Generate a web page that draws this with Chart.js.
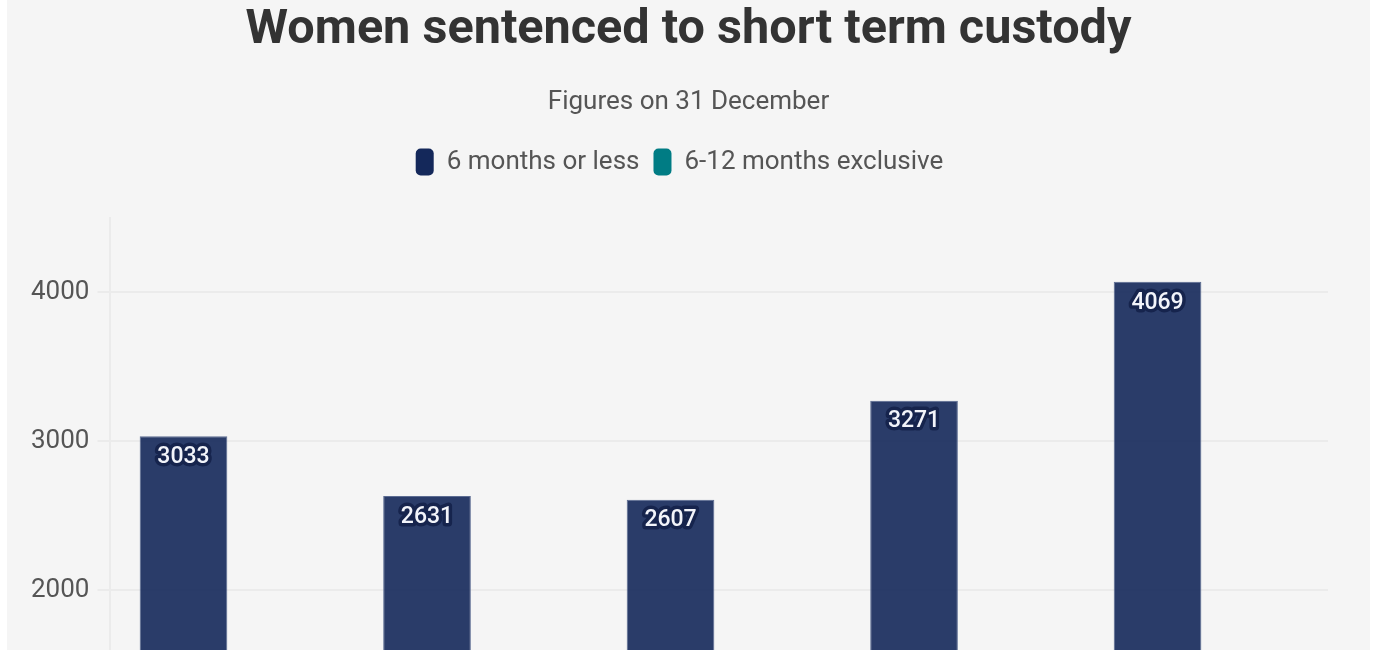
<!DOCTYPE html>
<html>
<head>
<meta charset="utf-8">
<script src="https://cdn.jsdelivr.net/npm/chart.js@4"></script>
<style>
  body { margin: 0; background: #fff; overflow: hidden; }
  #wrap { position: absolute; left: 7px; top: 0; width: 1363px; height: 941px; background: #f5f5f5; }
</style>
</head>
<body>
<div id="wrap"><canvas id="chart" width="1363" height="941"></canvas></div>
<script>
// figures on 31 December
const years = ['2019', '2020', '2021', '2022', '2023'];
const sixOrLess = [3033, 2631, 2607, 3271, 4069];
// second series sits below the visible part of the picture, values estimated
const sixToTwelve = [912, 845, 768, 1023, 1187];
const yTicks = [0, 1000, 2000, 3000, 4000];

const FONT = 'Roboto, "Noto Sans", sans-serif';

// white numbers with a dark halo at the top of each bar
const barLabels = {
  id: 'barLabels',
  afterDatasetsDraw(chart) {
    const ctx = chart.ctx;
    ctx.save();
    ctx.font = '500 23px ' + FONT;
    ctx.textAlign = 'center';
    ctx.textBaseline = 'middle';
    ctx.lineJoin = 'round';
    chart.data.datasets.forEach((ds, i) => {
      const meta = chart.getDatasetMeta(i);
      meta.data.forEach((bar, j) => {
        const txt = String(ds.data[j]);
        const y = bar.y + 21;
        ctx.strokeStyle = '#16244d';
        ctx.lineWidth = 7;
        ctx.strokeText(txt, bar.x, y);
        ctx.fillStyle = '#f2f4fa';
        ctx.fillText(txt, bar.x, y);
      });
    });
    ctx.restore();
  }
};

// more room under the legend, and nudge it a little to the left
const legendTweak = {
  id: 'legendTweak',
  beforeInit(chart) {
    const lg = chart.legend;
    const fit = lg.fit;
    const draw = lg.draw;
    lg.fit = function () {
      fit.call(this);
      this.height += 32;
    };
    lg.draw = function () {
      this.ctx.save();
      this.ctx.translate(-9, 0);
      draw.call(this);
      this.ctx.restore();
    };
  }
};

new Chart(document.getElementById('chart'), {
  type: 'bar',
  data: {
    labels: years,
    datasets: [{
      label: '6 months or less',
      data: sixOrLess,
      backgroundColor: 'rgba(20,40,90,0.9)',
      borderColor: '#5c6c92',
      borderWidth: 1
    }, {
      label: '6-12 months exclusive',
      data: sixToTwelve,
      backgroundColor: 'rgba(0,124,132,0.9)',
      borderColor: '#4a9aa0',
      borderWidth: 1
    }]
  },
  options: {
    responsive: false,
    devicePixelRatio: 1,
    animation: false,
    layout: { padding: { left: 16, right: 16, top: 0, bottom: 10 } },
    plugins: {
      title: {
        display: true,
        text: 'Women sentenced to short term custody',
        color: '#333',
        font: { family: FONT, size: 48.6, weight: 'bold' },
        padding: { top: 2, bottom: 27 }
      },
      subtitle: {
        display: true,
        text: 'Figures on 31 December',
        color: '#555',
        font: { family: FONT, size: 26 },
        padding: { top: 0, bottom: 16 }
      },
      legend: {
        labels: {
          color: '#555',
          font: { family: FONT, size: 26 },
          boxWidth: 18,
          boxHeight: 27,
          useBorderRadius: true,
          borderRadius: 5,
          padding: 14,
          generateLabels(chart) {
            const solid = ['#14285a', '#007c84'];
            return chart.data.datasets.map((ds, i) => ({
              text: ds.label,
              fillStyle: solid[i],
              strokeStyle: solid[i],
              lineWidth: 0,
              fontColor: '#555',
              borderRadius: 5,
              datasetIndex: i,
              hidden: !chart.isDatasetVisible(i)
            }));
          }
        }
      },
      tooltip: { enabled: false }
    },
    scales: {
      x: {
        grid: { display: false },
        border: { display: false },
        ticks: { color: '#555', font: { family: FONT, size: 24 } }
      },
      y: {
        min: 0,
        max: 4500,
        afterBuildTicks(axis) {
          axis.ticks = yTicks.map(v => ({ value: v }));
        },
        grid: { color: '#ebebeb', lineWidth: 2, tickLength: 13 },
        border: { color: '#ebebeb', width: 2 },
        ticks: {
          color: '#555',
          padding: 8,
          font: { family: FONT, size: 26 },
          callback: v => String(v)
        }
      },
      // empty strip on the right so the plot ends where the reference does
      pad: {
        type: 'linear',
        position: 'right',
        grid: { display: false },
        border: { display: false },
        ticks: { display: false },
        afterFit(axis) {
          axis.width = 26;
        }
      }
    }
  },
  plugins: [barLabels, legendTweak]
});
</script>
</body>
</html>
